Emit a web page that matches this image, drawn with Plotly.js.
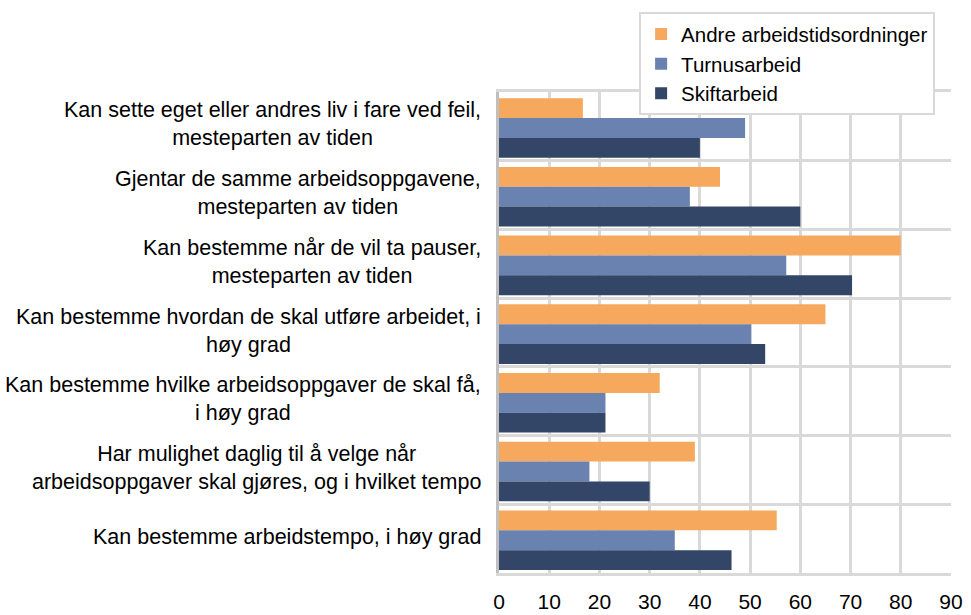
<!DOCTYPE html>
<html>
<head>
<meta charset="utf-8">
<script src="https://cdn.plot.ly/plotly-3.0.1.min.js"></script>
<style>html,body{margin:0;padding:0;background:#fff;}#chart{width:971px;height:615px;}</style>
</head>
<body>
<div id="chart"></div>
<script>
const categories = [
  "Kan sette eget eller andres liv i fare ved feil,<br>mesteparten av tiden",
  "Gjentar de samme arbeidsoppgavene,<br>mesteparten av tiden",
  "Kan bestemme når de vil ta pauser,<br>mesteparten av tiden",
  "Kan bestemme hvordan de skal utføre arbeidet, i<br>høy grad",
  "Kan bestemme hvilke arbeidsoppgaver de skal få,<br>i høy grad",
  "Har mulighet daglig til å velge når<br>arbeidsoppgaver skal gjøres, og i hvilket tempo",
  "Kan bestemme arbeidstempo, i høy grad"
];
const seriesNames = ["Andre arbeidstidsordninger", "Turnusarbeid", "Skiftarbeid"];
const andre = [16.7, 44, 80, 65, 32, 39, 55.3];
const turnus = [49, 38, 57.2, 50.2, 21.2, 18, 35];
const skift = [40, 60, 70.3, 53, 21.2, 30, 46.3];
const xTicks = [0, 10, 20, 30, 40, 50, 60, 70, 80, 90];

const colors = ["#F6A85D", "#6A82B0", "#334668"];
const values = [andre, turnus, skift];
const FONT = "Liberation Sans, Arial, sans-serif";
const BAR_W = 0.289;
const FIRST_OFFSET = -0.41;

const traces = values.map((v, i) => ({
  type: "bar",
  orientation: "h",
  name: seriesNames[i],
  x: v,
  y: categories,
  width: BAR_W,
  offset: FIRST_OFFSET + i * BAR_W,
  marker: {color: colors[i], line: {width: 0}},
  hoverinfo: "x+name"
}));

const annotations = categories.map(c => ({
  text: c,
  xref: "paper",
  yref: "y",
  x: -0.035,
  y: c,
  xanchor: "right",
  yanchor: "middle",
  align: "center",
  showarrow: false,
  yshift: 2,
  font: {family: FONT, size: 21.5, color: "#000"}
}));

const layout = {
  width: 971,
  height: 615,
  margin: {l: 499, r: 20, t: 86, b: 42, pad: 0},
  paper_bgcolor: "#fff",
  plot_bgcolor: "#fff",
  font: {family: FONT, size: 21, color: "#000"},
  barmode: "overlay",
  showlegend: true,
  legend: {
    x: 0.31, y: 1.166, xanchor: "left", yanchor: "top",
    bgcolor: "#fff", bordercolor: "#D9D9D9", borderwidth: 2,
    traceorder: "normal",
    font: {family: FONT, size: 20.5, color: "#000"},
    tracegroupgap: 0
  },
  xaxis: {
    range: [0, 90],
    tickvals: xTicks,
    ticktext: xTicks.map(String),
    showgrid: true,
    gridcolor: "#D9D9D9",
    gridwidth: 3,
    zeroline: false,
    showline: true,
    linecolor: "#D9D9D9",
    linewidth: 3,
    mirror: "all",
    ticks: "",
    ticklabelstandoff: 8,
    tickfont: {family: FONT, size: 21, color: "#000"},
    fixedrange: true
  },
  yaxis: {
    type: "category",
    autorange: "reversed",
    showticklabels: false,
    tickson: "boundaries",
    ticks: "",
    showgrid: true,
    gridcolor: "#D9D9D9",
    gridwidth: 3,
    showline: true,
    linecolor: "#BFBFBF",
    linewidth: 3,
    zeroline: false,
    fixedrange: true
  },
  annotations: annotations
};

Plotly.newPlot("chart", traces, layout, {displayModeBar: false, staticPlot: true});
</script>
</body>
</html>
